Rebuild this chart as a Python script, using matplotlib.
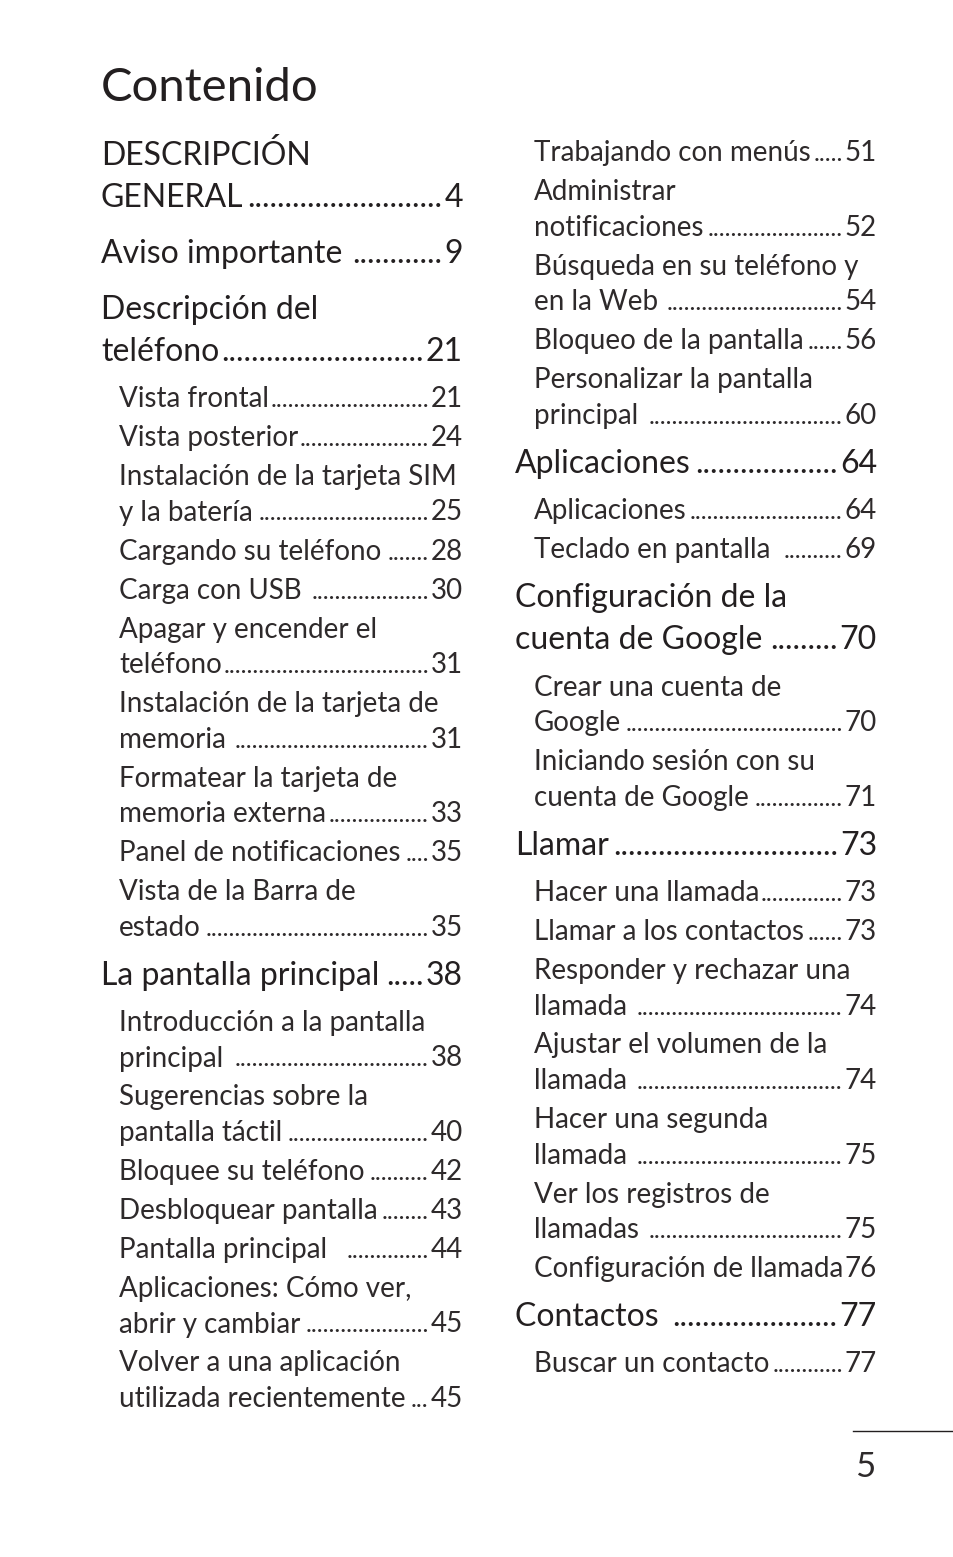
import matplotlib
matplotlib.use("Agg")
import matplotlib.pyplot as plt

# table of contents data
left_labels = [
    "DESCRIPCIÓN\nGENERAL", "Aviso importante ", "Descripción del\nteléfono",
    "Vista frontal", "Vista posterior", "Instalación de la tarjeta SIM\ny la batería",
    "Cargando su teléfono", "Carga con USB ", "Apagar y encender el\nteléfono",
    "Instalación de la tarjeta de\nmemoria ", "Formatear la tarjeta de\nmemoria externa",
    "Panel de notificaciones", "Vista de la Barra de\nestado",
    "La pantalla principal", "Introducción a la pantalla\nprincipal ",
    "Sugerencias sobre la\npantalla táctil", "Bloquee su teléfono",
    "Desbloquear pantalla", "Pantalla principal  ",
    "Aplicaciones: Cómo ver,\nabrir y cambiar",
    "Volver a una aplicación\nutilizada recientemente",
]
left_pages = ["4", "9", "21", "21", "24", "25", "28", "30", "31", "31", "33", "35",
              "35", "38", "38", "40", "42", "43", "44", "45", "45"]
left_levels = [1, 1, 1, 2, 2, 2, 2, 2, 2, 2, 2, 2, 2, 1, 2, 2, 2, 2, 2, 2, 2]

right_labels = [
    "Trabajando con menús", "Administrar\nnotificaciones",
    "Búsqueda en su teléfono y\nen la Web ", "Bloqueo de la pantalla",
    "Personalizar la pantalla\nprincipal ", "Aplicaciones", "Aplicaciones",
    "Teclado en pantalla ", "Configuración de la\ncuenta de Google",
    "Crear una cuenta de\nGoogle", "Iniciando sesión con su\ncuenta de Google",
    "Llamar", "Hacer una llamada", "Llamar a los contactos",
    "Responder y rechazar una\nllamada ", "Ajustar el volumen de la\nllamada ",
    "Hacer una segunda\nllamada ", "Ver los registros de\nllamadas ",
    "Configuración de llamada", "Contactos ", "Buscar un contacto",
]
right_pages = ["51", "52", "54", "56", "60", "64", "64", "69", "70", "70", "71",
               "73", "73", "73", "74", "74", "75", "75", "76", "77", "77"]
right_levels = [2, 2, 2, 2, 2, 1, 2, 2, 1, 2, 2, 1, 2, 2, 2, 2, 2, 2, 2, 1, 2]

# styles
ink = {1: "#231f20", 2: "#2e2a2b"}
font = "Lato"
size = {1: 23, 2: 20}
dot_scale = {1: 1.0, 2: 0.9}
wrap = {1: 42, 2: 35.5}
gap = {(1, 1): 56, (1, 2): 48, (2, 2): 39, (2, 1): 47.5}
cap = {1: 11.5, 2: 10}

fig = plt.figure(figsize=(9.54, 15.57), dpi=100)
ax = fig.add_axes([0, 0, 1, 1])
ax.set_xlim(0, 954)
ax.set_ylim(1557, 0)
ax.axis("off")
renderer = fig.canvas.get_renderer()


def width(t):
    return t.get_window_extent(renderer).width


def draw_column(labels, pages, levels, x_main, x_sub, x_right, y0):
    y = y0
    prev = None
    for label, page, lvl in zip(labels, pages, levels):
        if prev is not None:
            y += gap[(prev, lvl)]
        lines = label.split("\n")
        x = x_main if lvl == 1 else x_sub
        kw = dict(fontsize=size[lvl], family=font, color=ink[lvl])
        for i, line in enumerate(lines):
            if i > 0:
                y += wrap[lvl]
            t = ax.text(x, y + cap[lvl], line, ha="left", va="baseline", **kw)
        # page number and dot leaders on last line
        p = ax.text(x_right, y + cap[lvl], page, ha="right", va="baseline", **kw)
        dkw = dict(kw, fontsize=size[lvl] * dot_scale[lvl])
        probe = ax.text(0, 0, "." * 20, **dkw)
        w_dot = width(probe) / 20
        probe.remove()
        start = x + width(t) + 1
        end = x_right - width(p) - 2
        n = int((end - start) // w_dot)
        if n > 1:
            ax.text(end, y + cap[lvl], "." * n, ha="right", va="baseline", **dkw)
        prev = lvl


ax.text(101, 101, "Contenido", fontsize=34, family=font, color=ink[1],
        ha="left", va="baseline")

draw_column(left_labels, left_pages, left_levels, 101, 119, 463, 153)
draw_column(right_labels, right_pages, right_levels, 515, 534, 877, 151)

# page footer
ax.plot([853, 954], [1431, 1431], color=ink[1], lw=1.0)
ax.text(855, 1477, "5", fontsize=25, family=font,
        color=ink[2], ha="left", va="baseline")

fig.savefig("out.png", dpi=100, facecolor="white")
